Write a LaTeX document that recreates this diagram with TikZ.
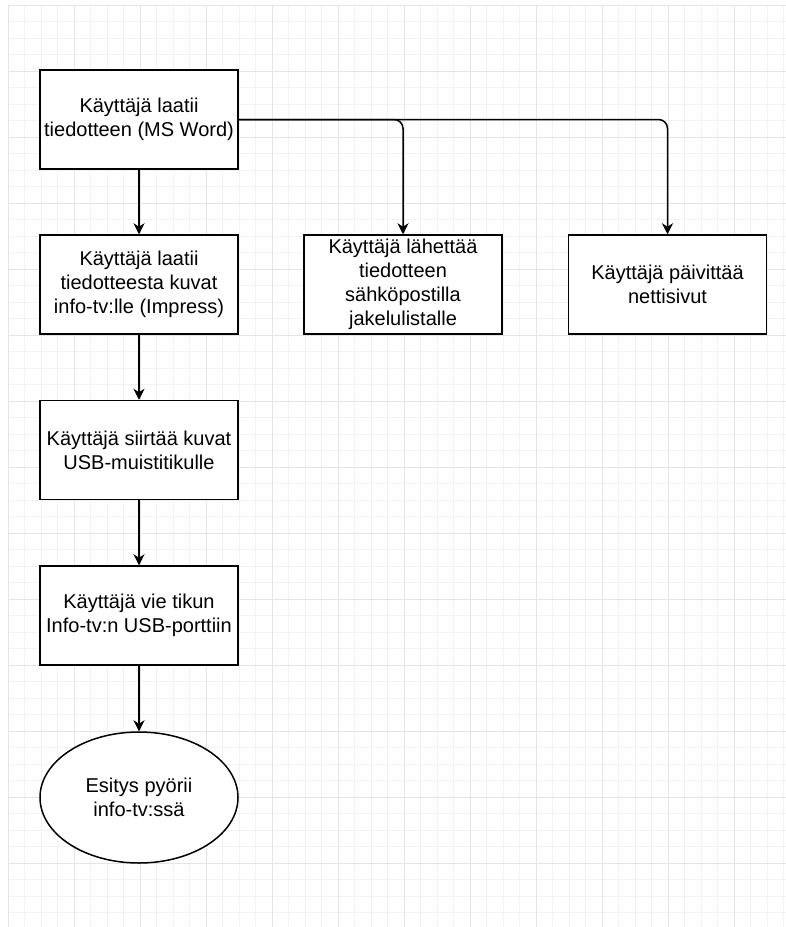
\documentclass[tikz,border=0pt]{standalone}
\usepackage{fontspec}
\setmainfont{Liberation Sans}
\usetikzlibrary{arrows.meta,shapes.geometric}
\begin{document}
\begin{tikzpicture}[x=1pt,y=-1pt,
  minorline/.style={draw=black!5, line width=0.8pt},
  majorline/.style={draw=black!10, line width=1pt},
  stepbox/.style={draw=black, line width=1.5pt, fill=white, minimum width=198pt,
    minimum height=99pt, align=center, inner sep=0pt,
    font=\fontsize{20}{24}\selectfont},
  endstate/.style={stepbox, ellipse, minimum width=198pt, minimum height=131pt},
  flow/.style={draw=black, line width=1.5pt,
    -{Stealth[length=11pt, width=11pt, inset=3.5pt]}}]

% canvas and background grid
\fill[white] (0,0) rectangle (786,927);
\useasboundingbox (0,0) rectangle (786,927);
\foreach \i in {0,...,47} \draw[minorline] ({8+16.5*\i},5) -- ({8+16.5*\i},927);
\foreach \j in {0,...,55} \draw[minorline] (8,{5+16.5*\j}) -- (786,{5+16.5*\j});
\foreach \i in {0,...,11} \draw[majorline] ({8+66*\i},5) -- ({8+66*\i},927);
\foreach \j in {0,...,13} \draw[majorline] (8,{5+66*\j}) -- (786,{5+66*\j});

% process steps
\node[stepbox] (word) at (139,119.5) {Käyttäjä laatii\\tiedotteen (MS Word)};
\node[stepbox] (impress) at (139,284.5) {Käyttäjä laatii\\tiedotteesta kuvat\\info-tv:lle (Impress)};
\node[stepbox] (mail) at (403,284.5) {Käyttäjä lähettää\\tiedotteen\\sähköpostilla\\jakelulistalle};
\node[stepbox] (web) at (667.5,284.5) {Käyttäjä päivittää\\nettisivut};
\node[stepbox] (usb) at (139,450) {Käyttäjä siirtää kuvat\\USB-muistitikulle};
\node[stepbox] (port) at (139,615.5) {Käyttäjä vie tikun\\Info-tv:n USB-porttiin};
\node[endstate] (show) at (139,797.5) {Esitys pyörii\\info-tv:ssä};

% connectors
\draw[flow] (word) -- (impress);
\draw[flow] (impress) -- (usb);
\draw[flow] (usb) -- (port);
\draw[flow] (port) -- (show);
\draw[flow, rounded corners=9pt] (word.east) -| (web.north);
\draw[flow, rounded corners=9pt] (word.east) -| (mail.north);
\end{tikzpicture}
\end{document}
